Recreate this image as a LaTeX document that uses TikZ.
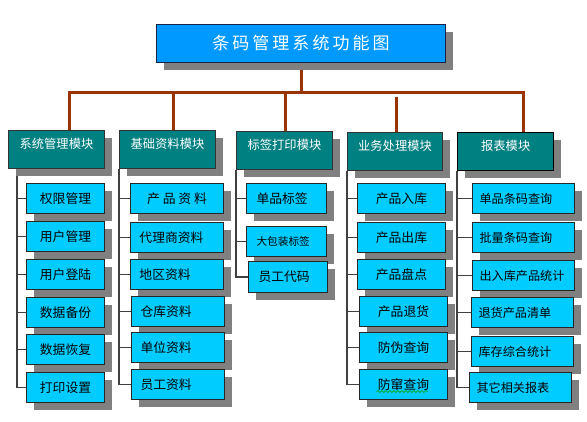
\documentclass[tikz,border=0pt]{standalone}
\usepackage{fontspec}
\setmainfont{Noto Sans CJK SC}
\newfontfamily\titlefont[LetterSpace=18]{Noto Sans CJK SC}
\usetikzlibrary{shadows,calc,decorations.pathmorphing}

\definecolor{titleblue}{RGB}{0,153,255}
\definecolor{modteal}{RGB}{0,128,128}
\definecolor{itemcyan}{RGB}{0,204,255}
\definecolor{shadowgray}{RGB}{128,128,128}
\definecolor{busbrown}{RGB}{153,51,0}
\definecolor{edgedark}{RGB}{25,35,70}
\definecolor{spellgreen}{RGB}{0,170,60}

\pgfdeclarelayer{background}
\pgfsetlayers{background,main}

\tikzset{every picture/.style={line width=0.75pt}}
\tikzset{
  boxshadow/.style={drop shadow={shadow xshift=5.25pt,shadow yshift=-5.25pt,fill=shadowgray,opacity=1}},
  titlebox/.style={boxshadow,draw=edgedark,fill=titleblue,anchor=north west,minimum width=216.75pt,minimum height=28.5pt,inner sep=0pt,text=white,font=\titlefont\fontsize{12.75}{15}\selectfont},
  modbox/.style={boxshadow,draw=black!80,fill=modteal,anchor=north west,minimum width=72pt,inner xsep=0pt,inner ysep=2pt,text height=11.25pt,text depth=13.25pt,text=white,font=\fontsize{9.2}{11}\selectfont},
  itembox/.style={boxshadow,draw=black!85,fill=itemcyan,anchor=north west,minimum height=22.5pt,inner sep=0pt,font=\fontsize{9.6}{12}\selectfont},
  leftbox/.style={itembox,align=left,inner xsep=#1},
  bus/.style={busbrown,line width=2.25pt},
  tree/.style={black!75,line width=0.9pt},
  wavy/.style={spellgreen,line width=0.6pt,decorate,decoration={snake,amplitude=0.7pt,segment length=3pt}}
}

\begin{document}
\begin{tikzpicture}[x=0.75pt,y=0.75pt,yscale=-1,xscale=1]
\useasboundingbox (0,0) rectangle (587,422);

% title
\node[titlebox] (title) at (156,24) {条码管理系统功能图};

% modules
\node[modbox] (m1) at (8,130) {系统管理模块};
\node[modbox] (m2) at (119,130) {基础资料模块};
\node[modbox] (m3) at (236,131) {标签打印模块};
\node[modbox,minimum width=71.25pt] (m4) at (347,132) {业务处理模块};
\node[modbox,draw=black,line width=1.1pt] (m5) at (457,132) {报表模块};

% system management
\node[itembox,minimum width=58.5pt] (a1) at (26,183) {权限管理};
\node[itembox,minimum width=58.5pt] (a2) at (26,221) {用户管理};
\node[itembox,minimum width=58.5pt] (a3) at (26,259) {用户登陆};
\node[itembox,minimum width=58.5pt] (a4) at (26,297) {数据备份};
\node[itembox,minimum width=58.5pt] (a5) at (26,334) {数据恢复};
\node[itembox,minimum width=58.5pt] (a6) at (26,372) {打印设置};

% basic data
\node[itembox,minimum width=69.75pt] (b1) at (130,183) {产 品 资 料};
\node[leftbox=6.75pt,text width=56.25pt] (b2) at (130,222) {代理商资料};
\node[leftbox=6.75pt,text width=56.25pt] (b3) at (130,259) {地区资料};
\node[leftbox=6.75pt,text width=56.25pt] (b4) at (131,296) {仓库资料};
\node[leftbox=6.75pt,text width=56.25pt] (b5) at (131,332) {单位资料};
\node[leftbox=6.75pt,text width=56.25pt] (b6) at (131,369) {员工资料};

% label printing
\node[leftbox=7.5pt,text width=45pt] (c1) at (246,183) {单品标签};
\node[leftbox=7.5pt,text width=45pt,font=\fontsize{8}{10}\selectfont] (c2) at (246,226) {大包装标签};
\node[leftbox=7.5pt,text width=44.25pt,minimum height=23.25pt] (c3) at (248,261) {员工代码};

% business
\node[itembox,minimum width=66pt] (d1) at (357,183) {产品入库};
\node[itembox,minimum width=66pt] (d2) at (357,222) {产品出库};
\node[itembox,minimum width=66pt] (d3) at (357,259) {产品盘点};
\node[itembox,minimum width=66pt] (d4) at (359,296) {产品退货};
\node[itembox,minimum width=66pt] (d5) at (359,332) {防伪查询};
\node[itembox,minimum width=66pt] (d6) at (359,369) {防窜查询};

% reports
\node[leftbox=5.25pt,text width=66pt,font=\fontsize{9.1}{11}\selectfont] (e1) at (472,183) {单品条码查询};
\node[leftbox=5.25pt,text width=66pt,font=\fontsize{9.1}{11}\selectfont] (e2) at (472,222) {批量条码查询};
\node[leftbox=5.25pt,text width=66pt,font=\fontsize{9.1}{11}\selectfont] (e3) at (472,260) {出入库产品统计};
\node[leftbox=5.25pt,text width=66pt,font=\fontsize{9.1}{11}\selectfont] (e4) at (471,297) {退货产品清单};
\node[leftbox=5.25pt,text width=66pt,font=\fontsize{9.1}{11}\selectfont] (e5) at (471,336) {库存综合统计};
\node[leftbox=5.25pt,text width=66pt,font=\fontsize{9.1}{11}\selectfont] (e6) at (469,372) {其它相关报表};

% spell check underline
\coordinate (ulA) at ($(d6.center)+(-27,7)$);
\coordinate (ulB) at ($(d6.center)+(24,7)$);
\draw[wavy] (ulA) -- (ulB);

\begin{pgfonlayer}{background}
% bus
\coordinate (busL) at (69,92);
\coordinate (busR) at (523,92);
\coordinate (drop2) at (173,92);
\coordinate (drop3) at (285,92);
\coordinate (drop4) at (396,97);
\draw[bus] (busL |- m1.north) -- (busL) -- (busR) -- (busR |- m5.north);
\draw[bus] (title.south) -- (title.south |- busL);
\draw[bus] (drop2) -- (drop2 |- m2.north);
\draw[bus] (drop3) -- (drop3 |- m3.north);
\draw[bus] (drop4) -- (drop4 |- m4.north);

% trees
\coordinate (t1) at (17,168);
\draw[tree] (t1) -- (t1 |- a6.west) -- (a6.west);
\draw[tree] (a1.west -| t1) -- (a1.west);
\draw[tree] (a2.west -| t1) -- (a2.west);
\draw[tree] (a3.west -| t1) -- (a3.west);
\draw[tree] (a4.west -| t1) -- (a4.west);
\draw[tree] (a5.west -| t1) -- (a5.west);

\draw[tree] (m2.south west) -- (m2.south west |- b6.west) -- (b6.west);
\draw[tree] (b1.west -| m2.south west) -- (b1.west);
\draw[tree] (b2.west -| m2.south west) -- (b2.west);
\draw[tree] (b3.west -| m2.south west) -- (b3.west);
\draw[tree] (b4.west -| m2.south west) -- (b4.west);
\draw[tree] (b5.west -| m2.south west) -- (b5.west);

\draw[tree] (m3.south west) -- (m3.south west |- c3.west) -- (c3.west);
\draw[tree] (c1.west -| m3.south west) -- (c1.west);
\draw[tree] (c2.west -| m3.south west) -- (c2.west);

\draw[tree] (m4.south west) -- (m4.south west |- d6.west) -- (d6.west);
\draw[tree] (d1.west -| m4.south west) -- (d1.west);
\draw[tree] (d2.west -| m4.south west) -- (d2.west);
\draw[tree] (d3.west -| m4.south west) -- (d3.west);
\draw[tree] (d4.west -| m4.south west) -- (d4.west);
\draw[tree] (d5.west -| m4.south west) -- (d5.west);

\draw[tree] (m5.south west) -- (m5.south west |- e6.west) -- (e6.west);
\draw[tree] (e1.west -| m5.south west) -- (e1.west);
\draw[tree] (e2.west -| m5.south west) -- (e2.west);
\draw[tree] (e3.west -| m5.south west) -- (e3.west);
\draw[tree] (e4.west -| m5.south west) -- (e4.west);
\draw[tree] (e5.west -| m5.south west) -- (e5.west);
\end{pgfonlayer}

\end{tikzpicture}
\end{document}
